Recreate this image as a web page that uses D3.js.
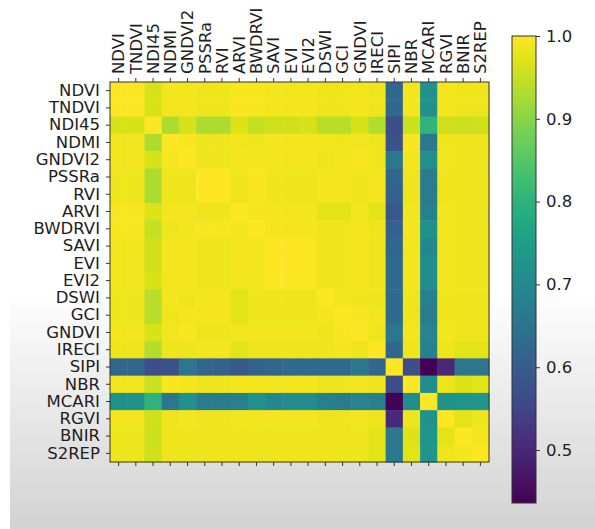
<!DOCTYPE html>
<html>
<head>
<meta charset="utf-8">
<script src="https://cdn.jsdelivr.net/npm/d3@7"></script>
<style>
  body { margin: 0; background: #fff; }
  svg text { font-family: "DejaVu Sans", sans-serif; fill: #1e1e1e; }
</style>
</head>
<body>
<script>
// Index names (rows and columns share them)
var labels = ["NDVI", "TNDVI", "NDI45", "NDMI", "GNDVI2", "PSSRa", "RVI", "ARVI",
              "BWDRVI", "SAVI", "EVI", "EVI2", "DSWI", "GCI", "GNDVI", "IRECI",
              "SIPI", "NBR", "MCARI", "RGVI", "BNIR", "S2REP"];

// Lower triangle of the correlation matrix
var lower = [
  [1],
  [1.00, 1],
  [0.965, 0.965, 1],
  [0.99, 0.99, 0.93, 1],
  [0.99, 0.99, 0.965, 0.995, 1],
  [0.985, 0.985, 0.93, 0.985, 0.985, 1],
  [0.985, 0.985, 0.93, 0.985, 0.985, 1.00, 1],
  [0.995, 0.995, 0.97, 0.99, 0.99, 0.985, 0.985, 1],
  [0.995, 0.995, 0.95, 0.985, 0.99, 0.995, 0.995, 0.99, 1],
  [0.99, 0.99, 0.96, 0.99, 0.99, 0.985, 0.985, 0.99, 0.99, 1],
  [0.99, 0.99, 0.96, 0.99, 0.99, 0.985, 0.985, 0.99, 0.99, 1.00, 1],
  [0.99, 0.99, 0.965, 0.99, 0.99, 0.985, 0.985, 0.99, 0.99, 1.00, 1.00, 1],
  [0.985, 0.985, 0.94, 0.99, 0.985, 0.99, 0.99, 0.975, 0.985, 0.985, 0.985, 0.985, 1],
  [0.985, 0.985, 0.94, 0.985, 0.99, 0.99, 0.99, 0.975, 0.985, 0.985, 0.985, 0.985, 0.99, 1],
  [0.99, 0.99, 0.965, 0.99, 0.995, 0.985, 0.985, 0.99, 0.99, 0.99, 0.99, 0.99, 0.985, 0.995, 1],
  [0.985, 0.985, 0.935, 0.985, 0.985, 0.99, 0.99, 0.975, 0.985, 0.985, 0.985, 0.985, 0.985, 0.99, 0.985, 1],
  [0.62, 0.62, 0.57, 0.58, 0.66, 0.62, 0.61, 0.59, 0.61, 0.62, 0.63, 0.63, 0.63, 0.63, 0.66, 0.62, 1],
  [0.99, 0.99, 0.955, 0.995, 0.99, 0.985, 0.985, 0.99, 0.99, 0.99, 0.99, 0.99, 0.985, 0.985, 0.99, 0.985, 0.57, 1],
  [0.72, 0.72, 0.80, 0.66, 0.72, 0.67, 0.67, 0.68, 0.72, 0.70, 0.71, 0.71, 0.68, 0.67, 0.69, 0.68, 0.44, 0.71, 1],
  [0.99, 0.99, 0.96, 0.985, 0.99, 0.985, 0.985, 0.99, 0.99, 0.99, 0.99, 0.99, 0.985, 0.985, 0.99, 0.985, 0.50, 0.985, 0.72, 1],
  [0.985, 0.985, 0.955, 0.985, 0.985, 0.985, 0.985, 0.985, 0.985, 0.985, 0.985, 0.985, 0.985, 0.985, 0.985, 0.975, 0.66, 0.97, 0.73, 0.975, 1],
  [0.985, 0.985, 0.96, 0.985, 0.985, 0.985, 0.985, 0.985, 0.985, 0.985, 0.985, 0.985, 0.985, 0.985, 0.985, 0.975, 0.66, 0.975, 0.73, 0.985, 0.99, 1]
];

// Colour bar range and ticks
var vmin = 0.436;
var vmax = 1.0;
var cbarTicks = [0.5, 0.6, 0.7, 0.8, 0.9, 1.0];

var w = 595;
var h = 529;

// full symmetric matrix as cells
var cells = [];
labels.forEach(function (r, i) {
  labels.forEach(function (c, j) {
    var v = j <= i ? lower[i][j] : lower[j][i];
    cells.push({row: r, col: c, value: v});
  });
});

var svg = d3.select("body").append("svg")
    .attr("width", w)
    .attr("height", h);

// screenshot-like background: white fading to grey at the bottom
var defs = svg.append("defs");
var bg = defs.append("linearGradient")
    .attr("id", "bg").attr("x1", 0).attr("y1", 0).attr("x2", 0).attr("y2", 1);
bg.append("stop").attr("offset", "0%").attr("stop-color", "#ffffff");
bg.append("stop").attr("offset", "55%").attr("stop-color", "#ffffff");
bg.append("stop").attr("offset", "100%").attr("stop-color", "#d2d2d2");

svg.append("rect")
    .attr("x", 0).attr("y", 0).attr("width", w).attr("height", h)
    .attr("fill", "#fff");
svg.append("rect")
    .attr("x", 10).attr("y", 0).attr("width", w - 10).attr("height", h)
    .attr("fill", "url(#bg)");

// heatmap
var hm = {left: 110, top: 82, right: 489, bottom: 462};

var x = d3.scaleBand().domain(labels).range([hm.left, hm.right]);
var y = d3.scaleBand().domain(labels).range([hm.top, hm.bottom]);
var color = d3.scaleSequential(d3.interpolateViridis).domain([vmin, vmax]);

svg.append("g")
    .selectAll("rect")
    .data(cells)
  .enter().append("rect")
    .attr("x", d => x(d.col))
    .attr("y", d => y(d.row))
    .attr("width", x.bandwidth() + 0.5)
    .attr("height", y.bandwidth() + 0.5)
    .attr("fill", d => color(d.value));

svg.append("rect")
    .attr("x", hm.left).attr("y", hm.top)
    .attr("width", hm.right - hm.left).attr("height", hm.bottom - hm.top)
    .attr("fill", "none").attr("stroke", "#333").attr("stroke-width", 1);

// axes
var fs = "16.5px";

var yAxis = svg.append("g")
    .attr("transform", `translate(${hm.left},0)`)
    .call(d3.axisLeft(y).tickSize(4).tickPadding(6));
yAxis.select(".domain").remove();
yAxis.selectAll("text").style("font-size", fs);

var xTop = svg.append("g")
    .attr("transform", `translate(0,${hm.top})`)
    .call(d3.axisTop(x).tickSize(4).tickPadding(4));
xTop.select(".domain").remove();
xTop.selectAll("text")
    .style("font-size", fs)
    .attr("text-anchor", "start")
    .attr("dy", "0.35em")
    .attr("x", 0)
    .attr("y", 0)
    .attr("transform", "translate(0,-8) rotate(-90)");

var xBottom = svg.append("g")
    .attr("transform", `translate(0,${hm.bottom})`)
    .call(d3.axisBottom(x).tickSize(4).tickFormat(""));
xBottom.select(".domain").remove();

svg.selectAll(".tick line").attr("stroke", "#333");

// colour bar
var cb = {left: 512, right: 536, top: 36, bottom: 503};
var grad = defs.append("linearGradient")
    .attr("id", "cbar").attr("x1", 0).attr("y1", 1).attr("x2", 0).attr("y2", 0);
d3.range(0, 1.0001, 0.05).forEach(function (t) {
  grad.append("stop")
      .attr("offset", (t * 100) + "%")
      .attr("stop-color", d3.interpolateViridis(t));
});

svg.append("rect")
    .attr("x", cb.left).attr("y", cb.top)
    .attr("width", cb.right - cb.left).attr("height", cb.bottom - cb.top)
    .attr("fill", "url(#cbar)")
    .attr("stroke", "#333").attr("stroke-width", 1);

var cbScale = d3.scaleLinear().domain([vmin, vmax]).range([cb.bottom, cb.top]);
var cbAxis = svg.append("g")
    .attr("transform", `translate(${cb.right},0)`)
    .call(d3.axisRight(cbScale).tickValues(cbarTicks).tickFormat(d3.format(".1f"))
          .tickSize(4).tickPadding(6));
cbAxis.select(".domain").remove();
cbAxis.selectAll("text").style("font-size", fs);
cbAxis.selectAll("line").attr("stroke", "#333");
</script>
</body>
</html>
